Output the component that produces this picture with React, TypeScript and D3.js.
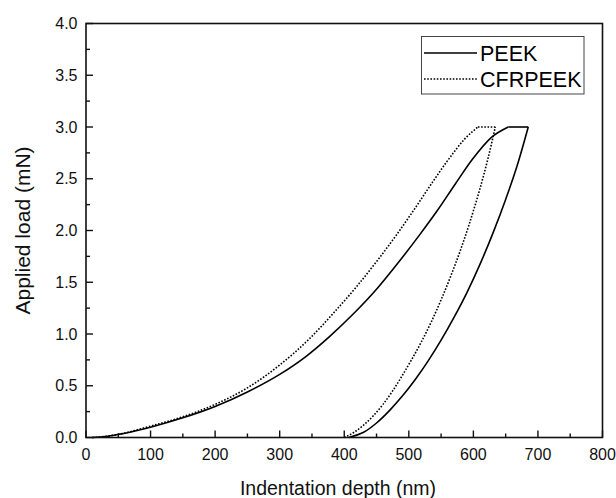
import React from "react";
import * as d3 from "d3";

const xTicks = [0, 100, 200, 300, 400, 500, 600, 700, 800];
const yTicks = [0.0, 0.5, 1.0, 1.5, 2.0, 2.5, 3.0, 3.5, 4.0];
const seriesNames = ["PEEK", "CFRPEEK"];

// PEEK loading: depth (nm), load (mN)
const peekLoadingDepth = [10, 30, 50, 100, 150, 200, 250, 300, 340, 378, 415, 451, 485, 517, 545, 572, 600, 628, 654];
const peekLoadingLoad = [0, 0.01, 0.03, 0.1, 0.19, 0.3, 0.44, 0.61, 0.78, 0.98, 1.2, 1.44, 1.7, 1.96, 2.2, 2.45, 2.7, 2.9, 3.0];
// PEEK hold
const peekHoldDepth = [654, 685];
const peekHoldLoad = [3.0, 3.0];
// PEEK unloading (listed from final depth up to max depth)
const peekUnloadDepth = [407, 430, 450, 470, 490, 510, 530, 550, 570, 590, 610, 630, 650, 668, 685];
const peekUnloadLoad = [0, 0.05, 0.14, 0.26, 0.4, 0.56, 0.74, 0.94, 1.16, 1.4, 1.67, 1.97, 2.3, 2.63, 3.0];

// CFRPEEK loading
const cfrLoadingDepth = [10, 30, 50, 100, 150, 200, 250, 300, 347, 383, 418, 450, 480, 508, 536, 563, 586, 607];
const cfrLoadingLoad = [0, 0.01, 0.03, 0.11, 0.2, 0.32, 0.48, 0.7, 0.96, 1.2, 1.45, 1.7, 1.95, 2.2, 2.46, 2.7, 2.88, 3.0];
const cfrHoldDepth = [607, 634];
const cfrHoldLoad = [3.0, 3.0];
const cfrUnloadDepth = [400, 415, 430, 445, 460, 475, 490, 505, 520, 535, 550, 565, 580, 595, 610, 622, 634];
const cfrUnloadLoad = [0, 0.05, 0.12, 0.21, 0.32, 0.45, 0.6, 0.76, 0.93, 1.12, 1.33, 1.56, 1.81, 2.09, 2.4, 2.68, 3.0];

const W = 616;
const H = 498;
const L = 86, R = 602.5, T = 23.5, B = 437.5;
const FONT = "'Liberation Sans', Arial, sans-serif";

const zip = (a: number[], b: number[]): [number, number][] => a.map((d, i) => [d, b[i]]);

export default function App() {
  const x = d3.scaleLinear().domain([0, 800]).range([L, R]);
  const y = d3.scaleLinear().domain([0, 4]).range([B, T]);
  const line = d3
    .line<[number, number]>()
    .x((d) => x(d[0]))
    .y((d) => y(d[1]))
    .curve(d3.curveMonotoneX);

  const series = [
    {
      name: seriesNames[0],
      dash: undefined as string | undefined,
      segs: [zip(peekLoadingDepth, peekLoadingLoad), zip(peekHoldDepth, peekHoldLoad), zip(peekUnloadDepth, peekUnloadLoad)],
    },
    {
      name: seriesNames[1],
      dash: "1.6,1.6" as string | undefined,
      segs: [zip(cfrLoadingDepth, cfrLoadingLoad), zip(cfrHoldDepth, cfrHoldLoad), zip(cfrUnloadDepth, cfrUnloadLoad)],
    },
  ];

  const xMinor = d3.range(50, 800, 100);
  const yMinor = d3.range(0.25, 4, 0.5);

  return (
    <svg width={W} height={H} style={{ position: "absolute", left: 0, top: 0, background: "#fff" }} fontFamily={FONT}>
      <rect x={0} y={0} width={W} height={H} fill="#fff" />
      {series.map((s) => (
        <g key={s.name}>
          {s.segs.map((seg, i) => (
            <path key={i} d={line(seg) || ""} fill="none" stroke="#000" strokeWidth={1.6} strokeLinejoin="round" strokeDasharray={s.dash} />
          ))}
        </g>
      ))}
      <rect x={L} y={T} width={R - L} height={B - T} fill="none" stroke="#111" strokeWidth={1.6} />
      {xTicks.map((t) => (
        <g key={"xt" + t}>
          <line x1={x(t)} x2={x(t)} y1={B} y2={B - 7} stroke="#111" strokeWidth={1.4} />
          <text x={x(t)} y={460} textAnchor="middle" fontSize={16} fill="#111">{t}</text>
        </g>
      ))}
      {xMinor.map((t) => (
        <line key={"xm" + t} x1={x(t)} x2={x(t)} y1={B} y2={B - 4} stroke="#111" strokeWidth={1.4} />
      ))}
      {yTicks.map((t) => (
        <g key={"yt" + t}>
          <line x1={L} x2={L + 7} y1={y(t)} y2={y(t)} stroke="#111" strokeWidth={1.4} />
          <text x={77.5} y={y(t) + 5.5} textAnchor="end" fontSize={16} fill="#111">{t.toFixed(1)}</text>
        </g>
      ))}
      {yMinor.map((t) => (
        <line key={"ym" + t} x1={L} x2={L + 4} y1={y(t)} y2={y(t)} stroke="#111" strokeWidth={1.4} />
      ))}
      <text x={338} y={495} textAnchor="middle" fontSize={19.5} fill="#111">Indentation depth (nm)</text>
      <text transform={`translate(29.5, ${(T + B) / 2}) rotate(-90)`} textAnchor="middle" fontSize={21} fill="#111">Applied load (mN)</text>
      <rect x={421.5} y={36.5} width={162.5} height={57.5} fill="#fff" stroke="#444" strokeWidth={1} />
      <line x1={424} x2={477} y1={53} y2={53} stroke="#000" strokeWidth={1.6} />
      <line x1={424} x2={477} y1={79} y2={79} stroke="#000" strokeWidth={1.6} strokeDasharray="1.6,1.6" />
      <text x={480} y={60.5} fontSize={21.5} fill="#000">{seriesNames[0]}</text>
      <text x={480} y={86.5} fontSize={21.5} fill="#000">{seriesNames[1]}</text>
    </svg>
  );
}
